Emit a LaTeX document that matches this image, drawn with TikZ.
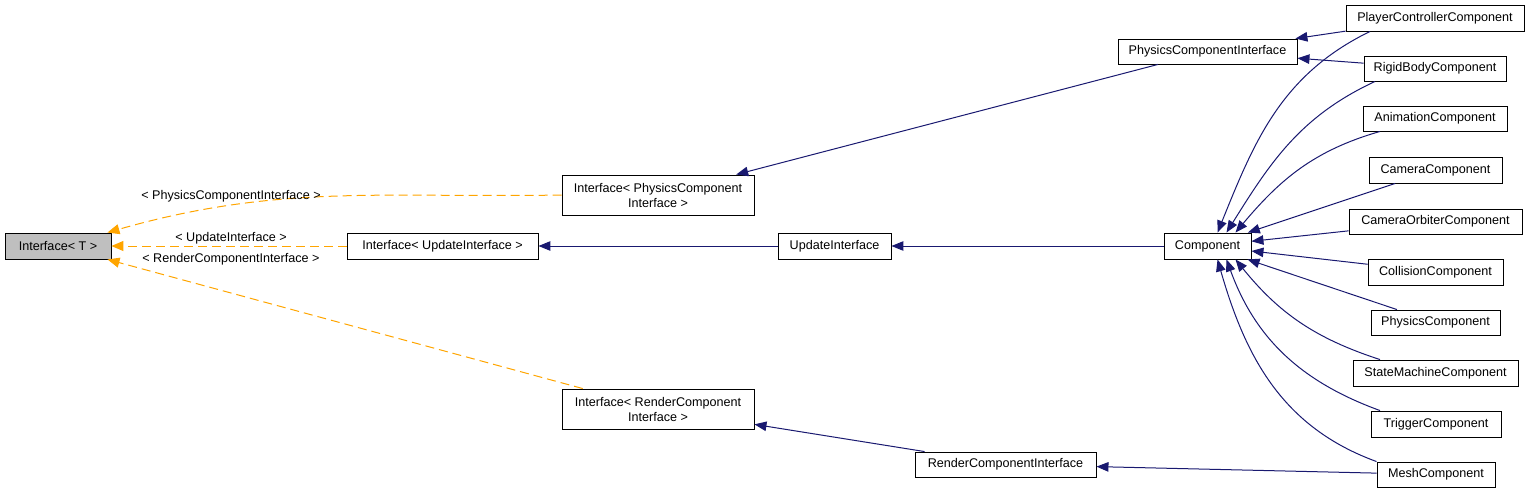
\documentclass[tikz,border=0pt]{standalone}
\usepackage{fontspec}
\setmainfont{Liberation Sans}
\usetikzlibrary{arrows.meta,positioning}
\definecolor{edgeblue}{RGB}{25,25,112}
\definecolor{edgeorange}{RGB}{255,165,0}

\begin{document}
\begin{tikzpicture}[x=1pt, y=1pt,
    cls/.style={rectangle, draw=black, line width=0.9pt, fill=white, minimum height=26pt, inner sep=0pt, font=\fontsize{12.6}{15}\selectfont, align=center},
    base/.style={cls, fill=gray!50},
    inh/.style={draw=edgeblue, line width=1pt, -{Triangle[length=12pt,width=9.5pt]}},
    tmpl/.style={draw=edgeorange, line width=1pt, dash pattern=on 9pt off 5pt, -{Triangle[length=12pt,width=10pt]}},
    lbl/.style={font=\fontsize{12.6}{15}\selectfont, inner sep=0pt}
]
\useasboundingbox (0,0) rectangle (1531,-493);

% Template and its instances
\node[base, minimum width=106pt] (it) at (58,-246) {Interface< T >};
\node[cls, minimum width=192pt, minimum height=40pt] (ipci) at (658,-195) {Interface< PhysicsComponent\\Interface >};
\node[cls, minimum width=191pt] (iui) at (442.5,-246) {Interface< UpdateInterface >};
\node[cls, minimum width=192pt, minimum height=40pt] (irci) at (658,-409) {Interface< RenderComponent\\Interface >};

% Interfaces
\node[cls, minimum width=113pt] (ui) at (834.5,-246) {UpdateInterface};
\node[cls, minimum width=179pt, minimum height=25pt] (pci) at (1207.5,-51.5) {PhysicsComponentInterface};
\node[cls, minimum width=87pt] (comp) at (1207.5,-246) {Component};
\node[cls, minimum width=181pt, minimum height=25pt] (rci) at (1005.5,-464.5) {RenderComponentInterface};

% Concrete components
\node[cls, minimum width=178pt] (pcc) at (1435,-18) {PlayerControllerComponent};
\node[cls, minimum width=142pt, minimum height=25pt] (rbc) at (1435,-68.5) {RigidBodyComponent};
\node[cls, minimum width=144pt, minimum height=25pt] (anc) at (1435,-118.5) {AnimationComponent};
\node[cls, minimum width=133pt] (cam) at (1435.5,-170) {CameraComponent};
\node[cls, minimum width=173pt, minimum height=25pt] (cob) at (1435.5,-221.5) {CameraOrbiterComponent};
\node[cls, minimum width=135pt] (col) at (1435.5,-272) {CollisionComponent};
\node[cls, minimum width=129pt, minimum height=25pt] (phc) at (1435.5,-322.5) {PhysicsComponent};
\node[cls, minimum width=165pt] (smc) at (1435.5,-373) {StateMachineComponent};
\node[cls, minimum width=130pt] (trc) at (1436,-424) {TriggerComponent};
\node[cls, minimum width=118pt, minimum height=25pt] (msh) at (1436,-474.5) {MeshComponent};

% Template arguments
\draw[tmpl] (ipci.west) to[out=181, in=16] ([xshift=-4pt]it.north east);
\draw[tmpl] (iui) -- (it);
\draw[tmpl] (irci) -- (it);
\node[lbl] (lpci) at (231,-196) {< PhysicsComponentInterface >};
\node[lbl] (lui) at (231,-238) {< UpdateInterface >};
\node[lbl] (lrci) at (231,-259) {< RenderComponentInterface >};

% Inheritance
\draw[inh] (ui) -- (iui);
\draw[inh] (comp) -- (ui);
\draw[inh] (pci) -- (ipci);
\draw[inh] (rci) -- (irci);
\draw[inh] (pcc) -- (pci);
\draw[inh] (rbc) -- (pci);
\draw[inh] (msh) -- (rci);

% Components
\draw[inh] ([xshift=-65pt]pcc.south) to[out=206, in=68] ([xshift=10pt]comp.north);
\draw[inh] ([xshift=-60pt]rbc.south) to[out=205, in=58] ([xshift=19pt]comp.north);
\draw[inh] ([xshift=-55pt]anc.south) to[out=196, in=50] ([xshift=28pt]comp.north);
\draw[inh] (cam) -- (comp);
\draw[inh] (cob) -- (comp);
\draw[inh] (col) -- (comp);
\draw[inh] (phc) -- (comp);
\draw[inh] ([xshift=-55.5pt]smc.north) to[out=162, in=-51] ([xshift=28pt]comp.south);
\draw[inh] ([xshift=-56pt]trc.north) to[out=160, in=-70] ([xshift=19pt]comp.south);
\draw[inh] (msh.north west) to[out=160, in=-74] ([xshift=10pt]comp.south);

\end{tikzpicture}
\end{document}
